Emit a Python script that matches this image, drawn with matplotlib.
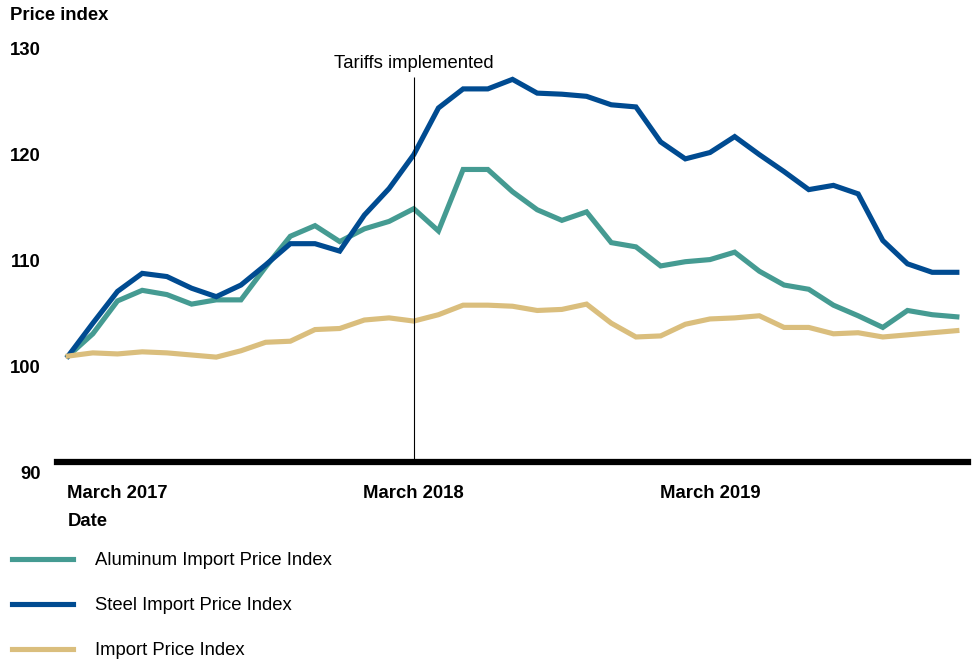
import matplotlib.pyplot as plt
from matplotlib.transforms import ScaledTranslation

plt.rcParams['font.family'] = ['Liberation Sans', 'DejaVu Sans']

# monthly, Jan 2017 .. Jan 2020
months = list(range(37))
aluminum = [100.0, 102.1, 105.2, 106.2, 105.8, 104.9, 105.3, 105.3, 108.4, 111.3, 112.3, 110.8, 112.0,
            112.7, 113.9, 111.8, 117.6, 117.6, 115.5, 113.8, 112.8, 113.6, 110.7, 110.3, 108.5,
            108.9, 109.1, 109.8, 108.0, 106.7, 106.3, 104.8, 103.8, 102.7, 104.3, 103.9, 103.7]
steel = [100.0, 103.1, 106.1, 107.8, 107.5, 106.4, 105.6, 106.7, 108.6, 110.6, 110.6, 109.9, 113.3,
         115.8, 119.0, 123.4, 125.2, 125.2, 126.1, 124.8, 124.7, 124.5, 123.7, 123.5, 120.2,
         118.6, 119.2, 120.7, 119.0, 117.4, 115.7, 116.1, 115.3, 110.9, 108.7, 107.9, 107.9]
imports = [100.0, 100.3, 100.2, 100.4, 100.3, 100.1, 99.9, 100.5, 101.3, 101.4, 102.5, 102.6, 103.4,
           103.6, 103.3, 103.9, 104.8, 104.8, 104.7, 104.3, 104.4, 104.9, 103.1, 101.8, 101.9,
           103.0, 103.5, 103.6, 103.8, 102.7, 102.7, 102.1, 102.2, 101.8, 102.0, 102.2, 102.4]
xtick_pos = [2, 14, 26]
xtick_labels = ['March 2017', 'March 2018', 'March 2019']
ytick_pos = [90, 100, 110, 120, 130]
tariff_month = 14

fs = 13.3
fig = plt.figure(figsize=(9.75, 6.62), dpi=100)
ax = fig.add_axes([0.0585, 0.302, 0.9343, 0.6566])

ax.plot(months, aluminum, color='#459B92', lw=3.7, label='Aluminum Import Price Index', solid_joinstyle='miter')
ax.plot(months, steel, color='#004B91', lw=3.7, label='Steel Import Price Index', solid_joinstyle='miter')
ax.plot(months, imports, color='#DABE7D', lw=3.7, label='Import Price Index', solid_joinstyle='miter')

ax.vlines(tariff_month, 90, 126.3, color='black', lw=0.8)
ax.text(tariff_month, 127.6, 'Tariffs implemented', ha='center', va='center', fontsize=fs)

ax.set_xlim(-0.45, 36.45)
ax.set_ylim(90, 131)
for s in ['top', 'right', 'left']:
    ax.spines[s].set_visible(False)
ax.spines['bottom'].set_linewidth(4.5)
ax.spines['bottom'].set_color('black')

ax.set_xticks(xtick_pos)
ax.set_xticklabels(xtick_labels, fontsize=fs, fontweight='bold')
ax.tick_params(axis='x', length=0, pad=16.5)
ax.set_yticks(ytick_pos)
ax.set_yticklabels([str(v) for v in ytick_pos], fontsize=fs, fontweight='bold')
ax.tick_params(axis='y', length=0, pad=11.5)
shift = ScaledTranslation(0, -3.5/100, fig.dpi_scale_trans)
for lbl in ax.get_yticklabels():
    lbl.set_va('top')
    lbl.set_transform(lbl.get_transform() + shift)

fig.text(10/975, 1 - 15/662, 'Price index', fontsize=fs, fontweight='bold', va='center')
fig.text(68/975, 1 - 521/662, 'Date', fontsize=fs, fontweight='bold', va='center')

fig.legend(loc='upper left', bbox_to_anchor=(12/975, 1 - 552/662), frameon=False, fontsize=fs,
           handlelength=3.3, handletextpad=1.19, labelspacing=1.52, borderpad=0, borderaxespad=0)

plt.savefig('out.png', dpi=100)
